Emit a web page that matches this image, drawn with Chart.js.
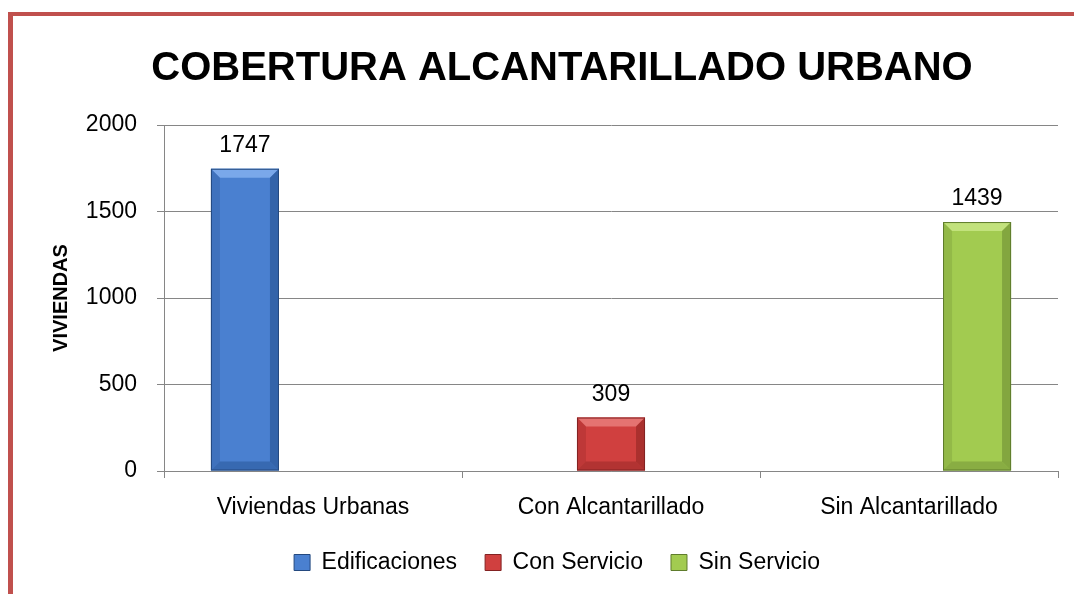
<!DOCTYPE html>
<html>
<head>
<meta charset="utf-8">
<script src="https://cdn.jsdelivr.net/npm/chart.js@4.4.1/dist/chart.umd.min.js"></script>
<style>
  html, body { margin: 0; padding: 0; background: #ffffff; }
  #wrap { position: relative; width: 1074px; height: 594px; }
</style>
</head>
<body>
<div id="wrap"><canvas id="c" width="1074" height="594"></canvas></div>
<script>
const titleText = 'COBERTURA ALCANTARILLADO URBANO';
const yAxisTitle = 'VIVIENDAS';
const categories = ['Viviendas Urbanas', 'Con Alcantarillado', 'Sin Alcantarillado'];
const seriesNames = ['Edificaciones', 'Con Servicio', 'Sin Servicio'];
const edificaciones = [1747, null, null];
const conServicio = [null, 309, null];
const sinServicio = [null, null, 1439];
const yTicks = [0, 500, 1000, 1500, 2000];

const palette = [
  { base: '#4a80d0', light: '#7aa8ea', dark: '#2c5a9c', edge: '#24497f' },
  { base: '#d0403f', light: '#e57371', dark: '#9e2b2a', edge: '#832222' },
  { base: '#a2cb50', light: '#c2e27c', dark: '#78993a', edge: '#5f7c2c' }
];

const FONT = '"Liberation Sans", Arial, sans-serif';

const framePlugin = {
  id: 'frame',
  beforeDraw(chart) {
    const ctx = chart.ctx;
    ctx.save();
    ctx.fillStyle = '#ffffff';
    ctx.fillRect(0, 0, chart.width, chart.height);
    ctx.fillStyle = '#c0504d';
    ctx.fillRect(8, 12, chart.width - 8, 4);
    ctx.fillRect(8, 12, 5, chart.height - 12);
    ctx.restore();
  }
};

// Excel centres the title and legend slightly right of the canvas centre
const shiftPlugin = {
  id: 'shiftBlocks',
  afterLayout(chart) {
    if (chart.titleBlock) { chart.titleBlock.left += 33; chart.titleBlock.right += 33; }
    if (chart.legend) { chart.legend.left += 28; chart.legend.right += 28; }
  }
};

const bevelPlugin = {
  id: 'bevel',
  afterDatasetsDraw(chart) {
    const ctx = chart.ctx;
    chart.data.datasets.forEach((ds, di) => {
      const meta = chart.getDatasetMeta(di);
      const col = palette[di];
      meta.data.forEach((el, i) => {
        if (ds.data[i] == null) return;
        const p = el.getProps(['x', 'y', 'base', 'width'], true);
        const l = p.x - p.width / 2, r = p.x + p.width / 2, t = p.y, b = p.base;
        const bv = Math.min(9, (b - t) / 3);
        ctx.save();
        ctx.fillStyle = col.light;
        ctx.beginPath();
        ctx.moveTo(l, t); ctx.lineTo(r, t); ctx.lineTo(r - bv, t + bv); ctx.lineTo(l + bv, t + bv); ctx.closePath(); ctx.fill();
        ctx.globalAlpha = 0.35;
        ctx.fillStyle = col.dark;
        ctx.beginPath();
        ctx.moveTo(l, t); ctx.lineTo(l + bv, t + bv); ctx.lineTo(l + bv, b - bv); ctx.lineTo(l, b); ctx.closePath(); ctx.fill();
        ctx.globalAlpha = 0.75;
        ctx.beginPath();
        ctx.moveTo(r, t); ctx.lineTo(r - bv, t + bv); ctx.lineTo(r - bv, b - bv); ctx.lineTo(r, b); ctx.closePath(); ctx.fill();
        ctx.globalAlpha = 0.6;
        ctx.beginPath();
        ctx.moveTo(l, b); ctx.lineTo(l + bv, b - bv); ctx.lineTo(r - bv, b - bv); ctx.lineTo(r, b); ctx.closePath(); ctx.fill();
        ctx.globalAlpha = 1;
        ctx.strokeStyle = col.edge;
        ctx.lineWidth = 1;
        ctx.strokeRect(l + 0.5, t + 0.5, p.width - 1, b - t - 1);
        ctx.restore();
      });
    });
  }
};

const valueLabelPlugin = {
  id: 'valueLabels',
  afterDatasetsDraw(chart) {
    const ctx = chart.ctx;
    ctx.save();
    ctx.font = '23px ' + FONT;
    ctx.fillStyle = '#000000';
    ctx.textAlign = 'center';
    ctx.textBaseline = 'middle';
    chart.data.datasets.forEach((ds, di) => {
      const meta = chart.getDatasetMeta(di);
      meta.data.forEach((el, i) => {
        const v = ds.data[i];
        if (v == null) return;
        ctx.fillText(String(v), el.x, el.y - 23);
      });
    });
    ctx.restore();
  }
};

const seriesData = [edificaciones, conServicio, sinServicio];

new Chart(document.getElementById('c'), {
  type: 'bar',
  data: {
    labels: categories,
    datasets: seriesNames.map((name, i) => ({
      label: name,
      data: seriesData[i],
      backgroundColor: palette[i].base,
      borderWidth: 0,
      categoryPercentage: 0.685,
      barPercentage: 1.0
    }))
  },
  options: {
    responsive: false,
    animation: false,
    devicePixelRatio: 1,
    layout: { padding: { left: 0, right: 16, top: 0, bottom: 10 } },
    plugins: {
      title: {
        display: true,
        text: titleText,
        color: '#000000',
        font: { family: FONT, size: 40, weight: 'bold' },
        padding: { top: 45, bottom: 32 }
      },
      legend: {
        position: 'bottom',
        labels: {
          color: '#000000',
          font: { family: FONT, size: 23 },
          boxWidth: 16,
          boxHeight: 16,
          padding: 28,
          generateLabels(chart) {
            return chart.data.datasets.map((ds, i) => ({
              text: ds.label,
              fillStyle: palette[i].base,
              strokeStyle: palette[i].edge,
              lineWidth: 1,
              datasetIndex: i,
              fontColor: '#000000'
            }));
          }
        }
      },
      tooltip: { enabled: false }
    },
    scales: {
      x: {
        grid: { offset: true, drawOnChartArea: false, drawTicks: true, tickLength: 7, color: '#868686', tickColor: '#868686' },
        border: { display: true, color: '#868686', width: 1 },
        ticks: { color: '#000000', font: { family: FONT, size: 23 }, padding: 16, maxRotation: 0 },
        afterFit(scale) { scale.height = 52; }
      },
      y: {
        min: 0,
        max: 2000,
        afterBuildTicks(scale) { scale.ticks = yTicks.map(v => ({ value: v })); },
        grid: { color: '#868686', tickColor: '#868686', tickLength: 7, drawTicks: true },
        border: { display: true, color: '#868686', width: 1 },
        ticks: { color: '#000000', font: { family: FONT, size: 23 }, padding: 20, callback: (v) => String(v) },
        title: {
          display: true,
          text: yAxisTitle,
          color: '#000000',
          font: { family: FONT, size: 20, weight: 'bold' },
          padding: { top: 49, bottom: 0 }
        },
        afterFit(scale) { scale.width = 164; }
      }
    }
  },
  plugins: [framePlugin, shiftPlugin, bevelPlugin, valueLabelPlugin]
});
</script>
</body>
</html>
